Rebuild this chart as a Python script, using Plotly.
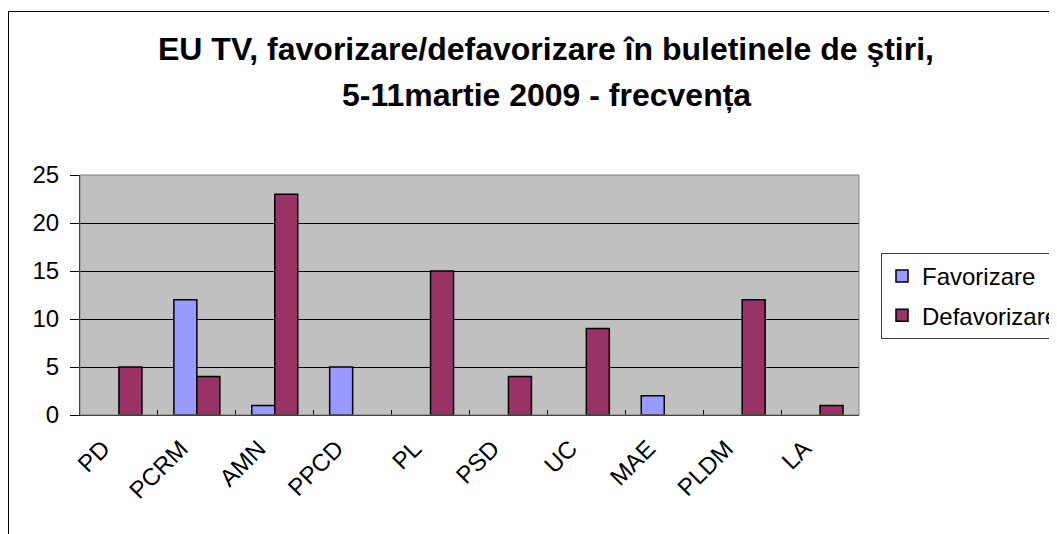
import plotly.graph_objects as go

categories = ["PD", "PCRM", "AMN", "PPCD", "PL", "PSD", "UC", "MAE", "PLDM", "LA"]
favorizare = [0, 12, 1, 5, 0, 0, 0, 2, 0, 0]
defavorizare = [5, 4, 23, 0, 15, 4, 9, 0, 12, 1]
y_ticks = [0, 5, 10, 15, 20, 25]
title_line1 = "EU TV, favorizare/defavorizare în buletinele de ştiri,"
title_line2 = "5-11martie 2009 - frecvența"

FONT = "Liberation Sans, Arial, sans-serif"

# page body has an 8px margin: work in screen pixels, then shift
OFF = 8
W, H = 1057 - OFF, 534 - OFF
L, R, T, B = 80 - OFF, 859 - OFF, 175 - OFF, 415 - OFF


def px_x(p):
    return (p - OFF - L) / (R - L)


def px_y(p):
    return (B - (p - OFF)) / (B - T)


def hide_zero(vals):
    return [v if v else None for v in vals]


fig = go.Figure()
fig.add_trace(go.Bar(name="Favorizare", x=categories, y=hide_zero(favorizare), legendgroup="f",
                     marker=dict(color="#9999FF", line=dict(color="black", width=1.5))))
fig.add_trace(go.Bar(name="Defavorizare", x=categories, y=hide_zero(defavorizare), legendgroup="d",
                     marker=dict(color="#993366", line=dict(color="black", width=1.5))))

fig.update_layout(
    width=W, height=H,
    margin=dict(l=L, r=W - R, t=T, b=H - B, autoexpand=False),
    paper_bgcolor="white", plot_bgcolor="#C0C0C0",
    barmode="group", bargap=0.41, bargroupgap=0,
    font=dict(family=FONT, color="black", size=23),
    showlegend=True,
    legend=dict(x=px_x(881), y=px_y(253), xanchor="left", yanchor="top",
                bordercolor="#404040", borderwidth=1, bgcolor="white",
                font=dict(size=24, family=FONT), tracegroupgap=5,
                itemwidth=30),
    xaxis=dict(type="category", showgrid=False, showline=True, linecolor="black", linewidth=1,
               ticks="inside", ticklen=5, tickcolor="black", tickson="boundaries",
               tickangle=-45, tickfont=dict(size=24, family=FONT), range=[-0.5, 9.5],
               ticklabelshift=-16, ticklabelstandoff=9),
    yaxis=dict(range=[0, 25], tickvals=y_ticks, showgrid=True, gridcolor="black", gridwidth=1,
               showline=True, linecolor="black", linewidth=1, ticks="outside", ticklen=9,
               tickcolor="black", tickfont=dict(size=24, family=FONT), zeroline=False,
               ticklabelstandoff=6),
    annotations=[
        dict(text="<b>" + title_line1 + "</b>", xref="paper", yref="paper",
             x=px_x(546), y=px_y(49), showarrow=False, xanchor="center", yanchor="middle",
             font=dict(size=32, family=FONT)),
        dict(text="<b>" + title_line2 + "</b>", xref="paper", yref="paper",
             x=px_x(546), y=px_y(95), showarrow=False, xanchor="center", yanchor="middle",
             font=dict(size=32, family=FONT)),
    ],
    shapes=[
        dict(type="rect", xref="paper", yref="paper", x0=0, x1=1, y0=0, y1=1,
             line=dict(color="#808080", width=1), layer="above"),
        dict(type="line", xref="paper", yref="paper", x0=px_x(8.5), x1=px_x(8.5),
             y0=px_y(11), y1=px_y(560), line=dict(color="black", width=1)),
        dict(type="line", xref="paper", yref="paper", x0=px_x(8), x1=px_x(1100),
             y0=px_y(11.5), y1=px_y(11.5), line=dict(color="black", width=1)),
    ],
)

fig.write_html("out.html")
